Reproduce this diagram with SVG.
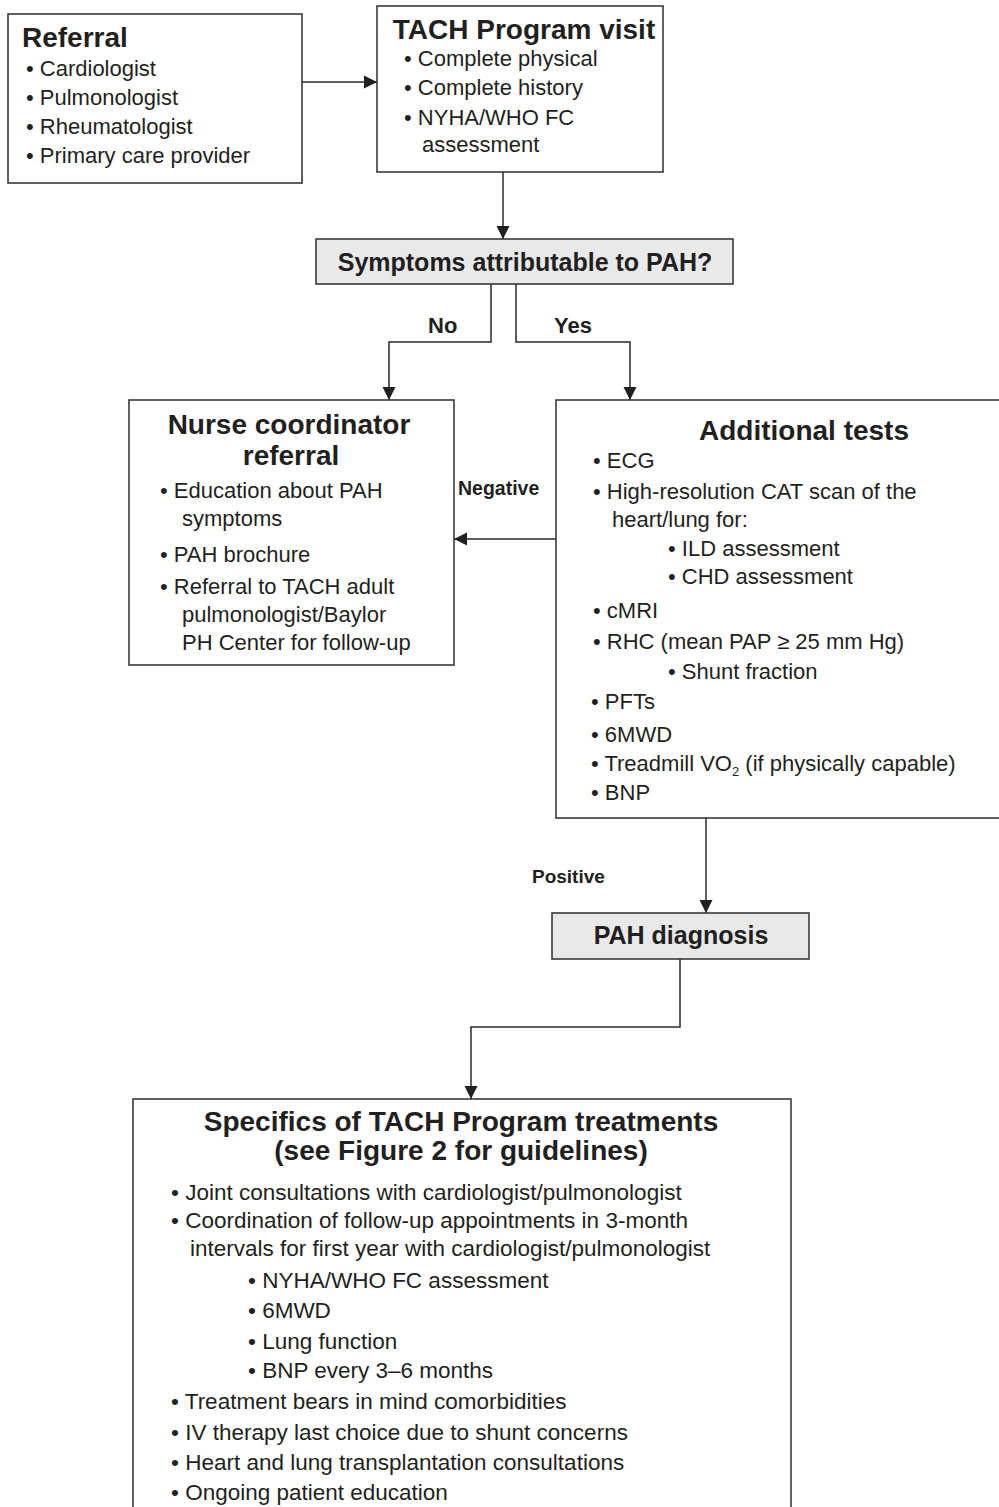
<svg xmlns="http://www.w3.org/2000/svg" width="999" height="1507" viewBox="0 0 999 1507">
<style>
text{font-family:"Liberation Sans",Arial,sans-serif;fill:#231f20}
.t{font-size:28px;font-weight:bold}
.d{font-size:25px;font-weight:bold}
.l{font-size:20px;font-weight:bold}
.b{font-size:22px}
.bb{font-size:22.5px}
.box{fill:#fff;stroke:#3a3a3a;stroke-width:1.6}
.gbox{fill:#e9e9eb;stroke:#3a3a3a;stroke-width:1.6}
.c{fill:none;stroke:#2a2a2a;stroke-width:1.5}
</style>
<defs>
<marker id="ah" markerWidth="14" markerHeight="14" refX="13" refY="7" orient="auto" markerUnits="userSpaceOnUse">
<path d="M0,0.5 L13,7 L0,13.5 Z" fill="#231f20"/>
</marker>
</defs>
<rect width="999" height="1507" fill="#fff"/>

<g id="connectors">
<path class="c" d="M302,82 H377" marker-end="url(#ah)"/>
<path class="c" d="M503,172 V239" marker-end="url(#ah)"/>
<path class="c" d="M491,284 V342 H389 V400" marker-end="url(#ah)"/>
<path class="c" d="M516,284 V342 H630 V400" marker-end="url(#ah)"/>
<path class="c" d="M556,539 H454" marker-end="url(#ah)"/>
<path class="c" d="M706,818 V913" marker-end="url(#ah)"/>
<path class="c" d="M680,959 V1027 H471 V1099" marker-end="url(#ah)"/>
<text class="l" x="428" y="333" style="font-size:22px">No</text>
<text class="l" x="554" y="333" style="font-size:22px">Yes</text>
<text class="l" x="458" y="495" style="font-size:19.5px">Negative</text>
<text class="l" x="532" y="883" style="font-size:19px">Positive</text>
</g>

<g id="referral">
<rect class="box" x="8" y="14" width="294" height="169"/>
<text class="t" x="22" y="47">Referral</text>
<text class="b" x="26" y="76">• Cardiologist</text>
<text class="b" x="26" y="105">• Pulmonologist</text>
<text class="b" x="26" y="134">• Rheumatologist</text>
<text class="b" x="26" y="163">• Primary care provider</text>
</g>

<g id="tach-visit">
<rect class="box" x="377" y="6" width="286" height="166"/>
<text class="t" x="524" y="39" text-anchor="middle">TACH Program visit</text>
<text class="b" x="404" y="66">• Complete physical</text>
<text class="b" x="404" y="95">• Complete history</text>
<text class="b" x="404" y="125">• NYHA/WHO FC</text>
<text class="b" x="422" y="152">assessment</text>
</g>

<g id="symptoms">
<rect class="gbox" x="316" y="239" width="417" height="45"/>
<text class="d" x="525" y="271" text-anchor="middle">Symptoms attributable to PAH?</text>
</g>

<g id="nurse">
<rect class="box" x="129" y="400" width="325" height="265"/>
<text class="t" x="289" y="434" text-anchor="middle">Nurse coordinator</text>
<text class="t" x="291" y="465" text-anchor="middle">referral</text>
<text class="b" x="160" y="498">• Education about PAH</text>
<text class="b" x="182" y="526">symptoms</text>
<text class="b" x="160" y="562">• PAH brochure</text>
<text class="b" x="160" y="594">• Referral to TACH adult</text>
<text class="b" x="182" y="622">pulmonologist/Baylor</text>
<text class="b" x="182" y="650">PH Center for follow-up</text>
</g>

<g id="tests">
<rect class="box" x="556" y="400" width="460" height="418"/>
<text class="t" x="804" y="440" text-anchor="middle">Additional tests</text>
<text class="b" x="593" y="468">• ECG</text>
<text class="b" x="593" y="499">• High-resolution CAT scan of the</text>
<text class="b" x="612" y="527">heart/lung for:</text>
<text class="b" x="668" y="556">• ILD assessment</text>
<text class="b" x="668" y="584">• CHD assessment</text>
<text class="b" x="593" y="618">• cMRI</text>
<text class="b" x="593" y="649">• RHC (mean PAP ≥ 25 mm Hg)</text>
<text class="b" x="668" y="679">• Shunt fraction</text>
<text class="b" x="591" y="709">• PFTs</text>
<text class="b" x="591" y="742">• 6MWD</text>
<text class="b" x="591" y="771">• Treadmill VO<tspan font-size="13" dy="5">2</tspan><tspan dy="-5"> (if physically capable)</tspan></text>
<text class="b" x="591" y="800">• BNP</text>
</g>

<g id="diagnosis">
<rect class="gbox" x="552" y="913" width="257" height="46"/>
<text class="d" x="681" y="944" text-anchor="middle">PAH diagnosis</text>
</g>

<g id="treatments">
<rect class="box" x="133" y="1099" width="658" height="420"/>
<text class="t" x="461" y="1131" text-anchor="middle">Specifics of TACH Program treatments</text>
<text class="t" x="461" y="1160" text-anchor="middle">(see Figure 2 for guidelines)</text>
<text class="bb" x="171" y="1200">• Joint consultations with cardiologist/pulmonologist</text>
<text class="bb" x="171" y="1228">• Coordination of follow-up appointments in 3-month</text>
<text class="bb" x="190" y="1256">intervals for first year with cardiologist/pulmonologist</text>
<text class="bb" x="248" y="1288">• NYHA/WHO FC assessment</text>
<text class="bb" x="248" y="1318">• 6MWD</text>
<text class="bb" x="248" y="1349">• Lung function</text>
<text class="bb" x="248" y="1378">• BNP every 3–6 months</text>
<text class="bb" x="171" y="1409">• Treatment bears in mind comorbidities</text>
<text class="bb" x="171" y="1440">• IV therapy last choice due to shunt concerns</text>
<text class="bb" x="171" y="1470">• Heart and lung transplantation consultations</text>
<text class="bb" x="171" y="1500">• Ongoing patient education</text>
</g>
</svg>
